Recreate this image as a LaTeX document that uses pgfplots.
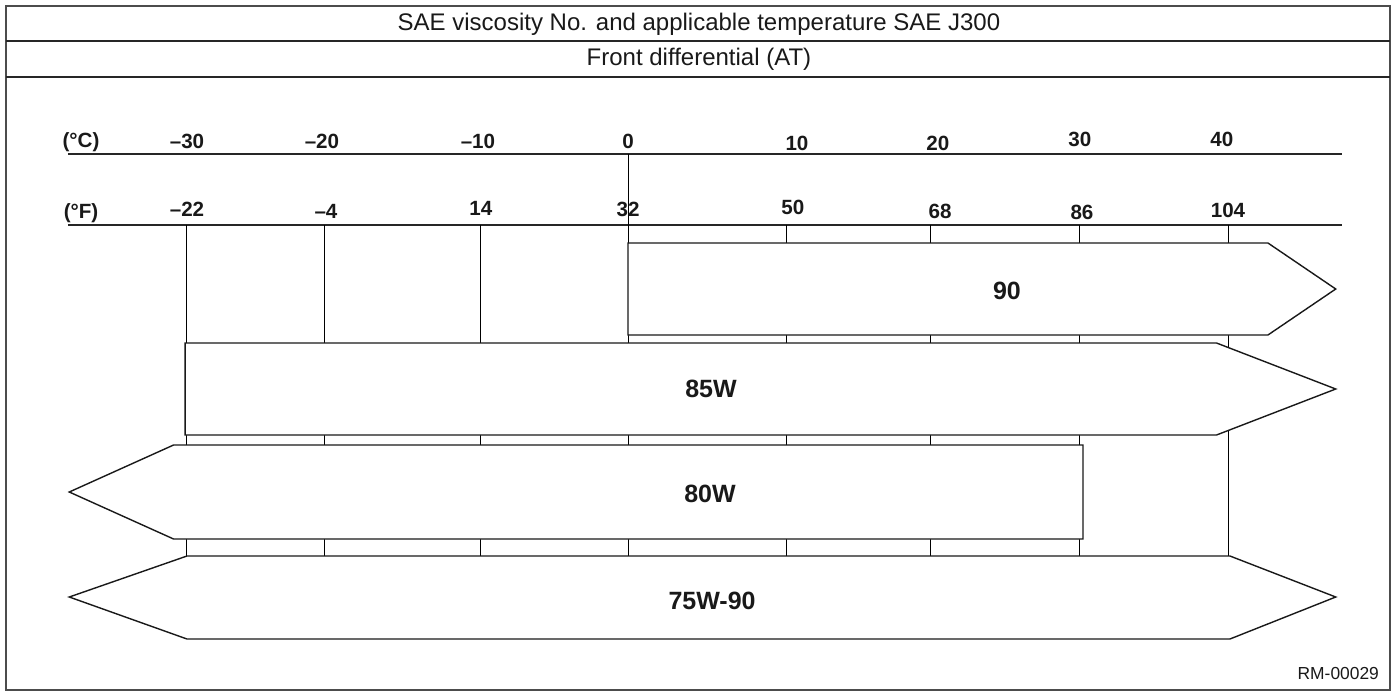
\documentclass[border=0pt]{standalone}
\usepackage{fontspec}
\setmainfont{Liberation Sans}
\usepackage{pgfplots}
\pgfplotsset{compat=1.18}
\newcommand{\tk}{\fontsize{10.3bp}{12bp}\selectfont\bfseries}
\newcommand{\bl}{\fontsize{12.5bp}{14bp}\selectfont\bfseries}
\newcommand{\hd}{\fontsize{12bp}{14bp}\selectfont}
\begin{document}
\begin{tikzpicture}
\begin{axis}[
  scale only axis, width=699bp, height=346.5bp,
  xmin=-42.35, xmax=51.48, ymin=0, ymax=693, y dir=reverse,
  hide axis, clip=false,
]
% invisible extent of the whole picture
\addplot[draw=none, mark=none] coordinates {(-42.35,0) (51.48,693)};
% outer frame and header rows
\addplot[draw=black!70, line width=1.1bp, line join=miter] coordinates {(-41.95,6) (50.94,6) (50.94,690) (-41.95,690)} -- cycle;
\addplot[draw=black!85, line width=0.9bp] coordinates {(-41.95,41) (50.94,41)};
\addplot[draw=black!85, line width=0.9bp] coordinates {(-41.95,77) (50.94,77)};
% temperature scales
\addplot[draw=black!85, line width=0.8bp] coordinates {(-37.79,154) (47.72,154)};
\addplot[draw=black!85, line width=0.8bp] coordinates {(-37.79,225) (47.72,225)};
% grid lines (as drawn for -30, -20, ..., 40 degC)
\addplot[draw=black, line width=0.5bp] coordinates {(-29.80,225) (-29.80,556)};
\addplot[draw=black, line width=0.5bp] coordinates {(-20.60,225) (-20.60,556)};
\addplot[draw=black, line width=0.5bp] coordinates {(-10.07,225) (-10.07,556)};
\addplot[draw=black, line width=0.5bp] coordinates {(-0.20,154) (-0.20,556)};
\addplot[draw=black, line width=0.5bp] coordinates {(10.47,225) (10.47,556)};
\addplot[draw=black, line width=0.5bp] coordinates {(20.07,225) (20.07,556)};
\addplot[draw=black, line width=0.5bp] coordinates {(30.13,225) (30.13,556)};
\addplot[draw=black, line width=0.5bp] coordinates {(40.07,225) (40.07,556)};
% viscosity ranges
\addplot[draw=black!90, fill=white, line width=0.7bp, line join=miter] coordinates {(-0.20,243) (42.75,243) (47.3,289) (42.75,335) (-0.20,335)} -- cycle;
\addplot[draw=black!90, fill=white, line width=0.7bp, line join=miter] coordinates {(-29.93,343) (39.3,343) (47.3,389) (39.3,435) (-29.93,435)} -- cycle;
\addplot[draw=black!90, fill=white, line width=0.7bp, line join=miter] coordinates {(-30.7,445) (30.34,445) (30.34,539) (-30.7,539) (-37.7,492)} -- cycle;
\addplot[draw=black!90, fill=white, line width=0.7bp, line join=miter] coordinates {(-29.80,556) (40.2,556) (47.3,597) (40.2,639) (-29.80,639) (-37.7,597)} -- cycle;
% texts
\node[text=black!90] at (axis cs:4.56,24) {\hd SAE viscosity No. and applicable temperature SAE J300};
\node[text=black!90] at (axis cs:4.56,59) {\hd Front differential (AT)};
\node[anchor=east, text=black!90] at (axis cs:50.67,674) {\fontsize{8.7bp}{10bp}\selectfont RM-00029};
\node[text=black!90] at (axis cs:-36.91,142) {\tk (°C)};
\node[text=black!90] at (axis cs:-29.80,141) {\tk –30};
\node[text=black!90] at (axis cs:-20.74,141) {\tk –20};
\node[text=black!90] at (axis cs:-10.27,141) {\tk –10};
\node[text=black!90] at (axis cs:-0.20,141) {\tk 0};
\node[text=black!90] at (axis cs:11.14,143) {\tk 10};
\node[text=black!90] at (axis cs:20.60,143) {\tk 20};
\node[text=black!90] at (axis cs:30.13,139) {\tk 30};
\node[text=black!90] at (axis cs:39.66,139) {\tk 40};
\node[text=black!90] at (axis cs:-36.91,213) {\tk (°F)};
\node[text=black!90] at (axis cs:-29.80,209) {\tk –22};
\node[text=black!90] at (axis cs:-20.47,211) {\tk –4};
\node[text=black!90] at (axis cs:-10.07,208) {\tk 14};
\node[text=black!90] at (axis cs:-0.20,209) {\tk 32};
\node[text=black!90] at (axis cs:10.87,207) {\tk 50};
\node[text=black!90] at (axis cs:20.74,211) {\tk 68};
\node[text=black!90] at (axis cs:30.27,212) {\tk 86};
\node[text=black!90] at (axis cs:40.07,210) {\tk 104};
\node[text=black!90] at (axis cs:25.23,291) {\bl 90};
\node[text=black!90] at (axis cs:5.37,389) {\bl 85W};
\node[text=black!90] at (axis cs:5.30,494) {\bl 80W};
\node[text=black!90] at (axis cs:5.44,601) {\bl 75W-90};
\end{axis}
\end{tikzpicture}
\end{document}
